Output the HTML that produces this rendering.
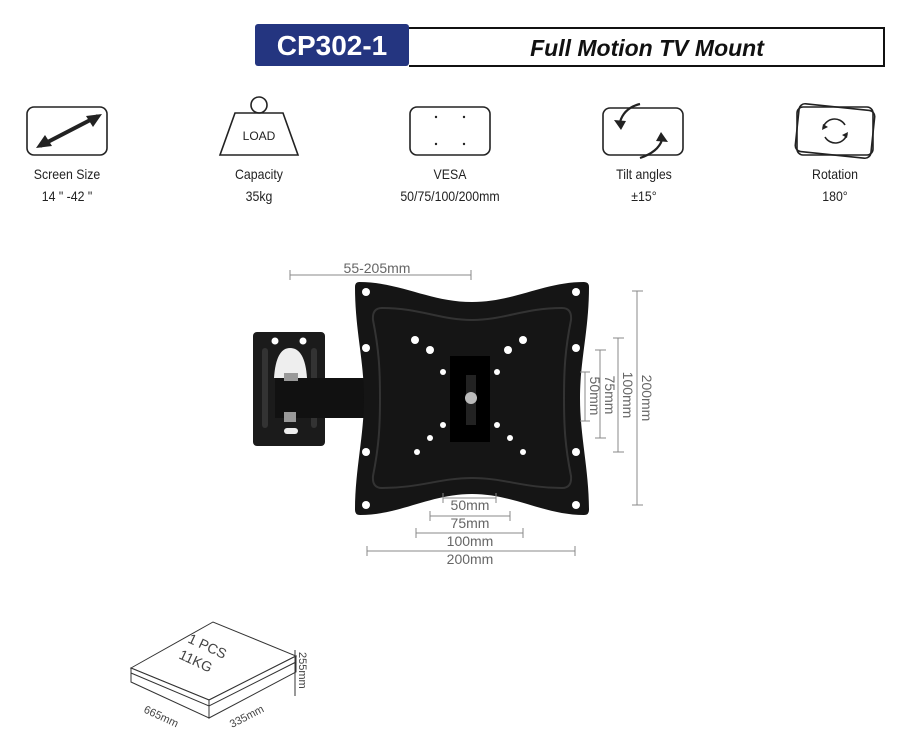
<!DOCTYPE html>
<html><head><meta charset="utf-8"><style>
body{margin:0;width:900px;height:750px;background:#fff;overflow:hidden;font-family:"Liberation Sans",sans-serif}
.lab{position:absolute;font-size:14px;color:#222;text-align:center;width:140px;line-height:22px;transform:scaleX(0.88)}
</style></head><body>
<div style="position:absolute;left:409px;top:27px;width:474px;height:36px;border:2px solid #111;border-left:none"></div>
<div style="position:absolute;left:409px;top:27px;width:476px;height:40px;text-align:center;line-height:42px;font-size:23px;font-weight:bold;font-style:italic;color:#111">Full Motion TV Mount</div>
<div style="position:absolute;left:255px;top:24px;width:154px;height:42px;background:#243580;border-radius:3px;color:#fff;font-weight:bold;font-size:28px;line-height:44px;text-align:center">CP302-1</div>

<svg width="900" height="750" style="position:absolute;left:0;top:0">
<g fill="none" stroke="#222" stroke-width="1.6">
<rect x="27" y="107" width="80" height="48" rx="7"/>
<rect x="410" y="107" width="80" height="48" rx="7"/>
<rect x="603" y="108" width="80" height="47" rx="7"/>
<rect x="797" y="107" width="76" height="48" rx="6" transform="rotate(6 835 131)"/>
<rect x="797" y="107" width="76" height="48" rx="6"/>
<path d="M235 113 H283 L298 155 H220 Z"/>
<circle cx="259" cy="105" r="8"/>
<path d="M823 128 a12 12 0 0 1 22 -3 M847 134 a12 12 0 0 1 -22 3"/>
<path d="M640 104 q-16 4 -20 18 M640 158 q18 -6 22 -18" stroke-width="2.2"/>
</g>
<path d="M40 146 L98 116" stroke="#222" stroke-width="4"/>
<path d="M36 148 l16 -2 l-7 -11z M102 114 l-16 2 l7 11z" fill="#222"/>
<path d="M614 120 l12 1 l-5 9z M668 142 l-12 -1 l5 -9z" fill="#222"/>
<path d="M822 130 l6 -3 l-5 -3z M848 132 l-6 3 l5 3z" fill="#222"/>
<g fill="#222"><circle cx="436" cy="117" r="1.2"/><circle cx="464" cy="117" r="1.2"/><circle cx="436" cy="144" r="1.2"/><circle cx="464" cy="144" r="1.2"/></g>
<text x="259" y="140" font-size="12" text-anchor="middle" fill="#222" font-family="Liberation Sans">LOAD</text>

<!-- mount -->
<rect x="253" y="332" width="72" height="114" rx="4" fill="#1b1b1b"/>
<g fill="#fff"><circle cx="275" cy="341" r="3.5"/><circle cx="303" cy="341" r="3.5"/></g>
<path d="M274 378 Q276 348 290 348 Q305 348 307 378 Z" fill="#eee"/>
<rect x="284" y="428" width="14" height="6" rx="3" fill="#eee"/>
<rect x="262" y="348" width="6" height="80" rx="3" fill="#333"/><rect x="311" y="348" width="6" height="80" rx="3" fill="#333"/>
<rect x="275" y="378" width="92" height="40" fill="#111"/>
<rect x="284" y="373" width="14" height="8" fill="#999"/><rect x="284" y="412" width="12" height="10" fill="#999"/>
<path d="M359 282 C400 282 430 302 472 302 C514 302 544 282 584 282 Q589 282 589 287 C589 330 580 360 580 398 C580 436 589 470 589 510 Q589 515 584 515 C544 515 514 494 472 494 C430 494 400 515 360 515 Q355 515 355 510 C355 470 364 436 364 398 C364 360 355 330 355 287 Q355 282 359 282Z" fill="#151515"/>
<path d="M382 308 C420 308 440 320 472 320 C504 320 524 308 562 308 Q572 308 571 320 C565 350 564 370 564 398 C564 426 565 446 571 476 Q572 488 562 488 C524 488 504 478 472 478 C440 478 420 488 382 488 Q372 488 373 476 C379 446 380 426 380 398 C380 370 379 350 373 320 Q372 308 382 308Z" fill="none" stroke="#333" stroke-width="2"/>
<rect x="450" y="356" width="40" height="86" fill="#000"/>
<rect x="466" y="375" width="10" height="50" fill="#222"/>
<circle cx="471" cy="398" r="6" fill="#bbb"/>
<g fill="#fff">
<circle cx="366" cy="292" r="4"/><circle cx="576" cy="292" r="4"/><circle cx="366" cy="348" r="4"/><circle cx="576" cy="348" r="4"/>
<circle cx="366" cy="452" r="4"/><circle cx="576" cy="452" r="4"/><circle cx="366" cy="505" r="4"/><circle cx="576" cy="505" r="4"/>
<circle cx="415" cy="340" r="4"/><circle cx="523" cy="340" r="4"/><circle cx="430" cy="350" r="4"/><circle cx="508" cy="350" r="4"/>
<circle cx="443" cy="372" r="3"/><circle cx="497" cy="372" r="3"/><circle cx="443" cy="425" r="3"/><circle cx="497" cy="425" r="3"/>
<circle cx="430" cy="438" r="3"/><circle cx="510" cy="438" r="3"/><circle cx="417" cy="452" r="3"/><circle cx="523" cy="452" r="3"/>
</g>

<!-- dims -->
<g stroke="#888" stroke-width="1" fill="none">
<path d="M290 275 H471 M290 270 V280 M471 270 V280"/>
<path d="M637 291 V505 M632 291 H643 M632 505 H643"/>
<path d="M618 338 V452 M613 338 H624 M613 452 H624"/>
<path d="M600 350 V438 M595 350 H606 M595 438 H606"/>
<path d="M585 372 V421 M580 372 H590 M580 421 H590"/>
<path d="M443 498 H496 M443 493 V503 M496 493 V503"/>
<path d="M430 516 H510 M430 511 V521 M510 511 V521"/>
<path d="M416 533 H523 M416 528 V538 M523 528 V538"/>
<path d="M367 551 H575 M367 546 V556 M575 546 V556"/>
</g>
<g fill="#666" font-size="14" font-family="Liberation Sans" text-anchor="middle">
<text x="377" y="273">55-205mm</text>
<text x="470" y="510">50mm</text><text x="470" y="528">75mm</text><text x="470" y="546">100mm</text><text x="470" y="564">200mm</text>
<text transform="translate(642 398) rotate(90)">200mm</text>
<text transform="translate(623 395) rotate(90)">100mm</text>
<text transform="translate(605 395) rotate(90)">75mm</text>
<text transform="translate(590 396) rotate(90)">50mm</text>
</g>

<!-- box -->
<g fill="#fff" stroke="#333" stroke-width="1">
<path d="M131 668 L213 622 L296 656 L209 700 Z"/>
<path d="M131 668 V682 L209 718 V700 Z"/>
<path d="M209 700 L296 656 V672 L209 718 Z"/>
<path d="M131 673 L209 706 L296 662" fill="none"/>
<path d="M295 650 V696" fill="none"/>
</g>
<g fill="#444" font-size="14" font-family="Liberation Sans">
<text transform="translate(187 642) rotate(25)">1 PCS</text>
<text transform="translate(178 658) rotate(25)">11KG</text>
<text font-size="11" transform="translate(143 712) rotate(25)">665mm</text>
<text font-size="11" transform="translate(232 728) rotate(-27)">335mm</text>
<text font-size="11" transform="translate(299 652) rotate(90)">255mm</text>
</g>
</svg>

<div class="lab" style="left:-3px;top:163px">Screen Size<br>14 " -42 "</div>
<div class="lab" style="left:189px;top:163px">Capacity<br>35kg</div>
<div class="lab" style="left:380px;top:163px">VESA<br>50/75/100/200mm</div>
<div class="lab" style="left:574px;top:163px">Tilt angles<br>±15°</div>
<div class="lab" style="left:765px;top:163px">Rotation<br>180°</div>
</body></html>
